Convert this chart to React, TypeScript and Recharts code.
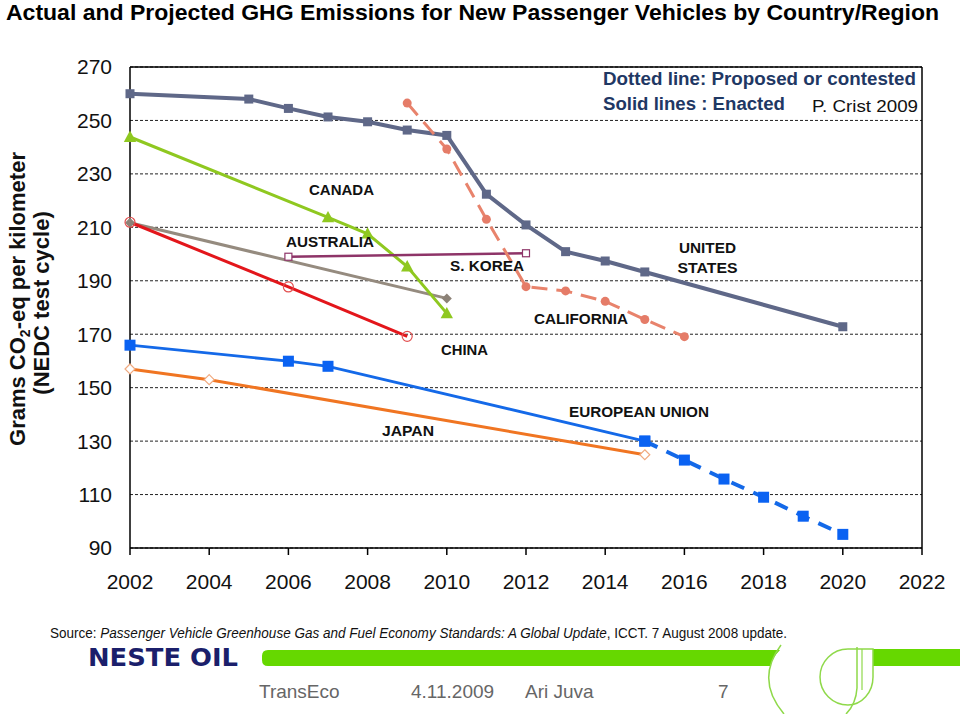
import React from "react";
import { LineChart, Line, XAxis, YAxis, CartesianGrid, ReferenceLine } from "recharts";

// ---------- data ----------
const usYears = [2002, 2005, 2006, 2007, 2008, 2009, 2010, 2011, 2012, 2013, 2014, 2015, 2020];
const usValues = [260, 258, 254.5, 251.3, 249.5, 246.4, 244.4, 222.4, 210.9, 200.9, 197.4, 193.3, 172.8];

const canadaYears = [2002, 2007, 2008, 2009, 2010];
const canadaValues = [243.8, 213.7, 207.6, 195.3, 177.8];

const australiaYears = [2002, 2010];
const australiaValues = [211.7, 183.4];

const chinaYears = [2002, 2006, 2009];
const chinaValues = [211.9, 187.7, 169.2];

const koreaYears = [2006, 2012];
const koreaValues = [199, 200.3];

const californiaYears = [2009, 2010, 2011, 2012, 2013, 2014, 2015, 2016];
const californiaValues = [256.5, 239.3, 213.0, 187.8, 186.2, 182.3, 175.5, 169.1];

const euEnactedYears = [2002, 2006, 2007, 2015];
const euEnactedValues = [165.9, 159.9, 158.0, 130];

const euProposedYears = [2015, 2016, 2017, 2018, 2019, 2020];
const euProposedValues = [130, 122.9, 115.8, 109.0, 101.9, 95.1];

const japanYears = [2002, 2004, 2015];
const japanValues = [157, 153, 124.9];

const xTicks = [2002, 2004, 2006, 2008, 2010, 2012, 2014, 2016, 2018, 2020, 2022];
const yTicks = [90, 110, 130, 150, 170, 190, 210, 230, 250, 270];

const zip = (years: number[], values: number[]) =>
  years.map((year, i) => ({ year, v: values[i] }));

const FONT = "'Liberation Sans', Arial, Helvetica, sans-serif";
const NARROW = "'Liberation Sans Narrow', 'Arial Narrow', 'Liberation Sans', Arial, sans-serif";

// ---------- dot shapes ----------
const squareDot = (fill: string, size: number, stroke?: string) => (p: any) => {
  if (p.cx == null || p.cy == null) return <g key={`n${p.index}`} />;
  return (
    <rect
      key={`s${p.index}`}
      x={p.cx - size / 2}
      y={p.cy - size / 2}
      width={size}
      height={size}
      fill={fill}
      stroke={stroke || "none"}
      strokeWidth={1.2}
    />
  );
};

const triangleDot = (fill: string, s: number) => (p: any) => {
  if (p.cx == null || p.cy == null) return <g key={`n${p.index}`} />;
  const { cx, cy } = p;
  return (
    <path
      key={`t${p.index}`}
      d={`M${cx},${cy - s} L${cx + s * 0.95},${cy + s * 0.75} L${cx - s * 0.95},${cy + s * 0.75} Z`}
      fill={fill}
    />
  );
};

const diamondDot = (fill: string, s: number, stroke?: string) => (p: any) => {
  if (p.cx == null || p.cy == null) return <g key={`n${p.index}`} />;
  const { cx, cy } = p;
  return (
    <path
      key={`d${p.index}`}
      d={`M${cx},${cy - s} L${cx + s},${cy} L${cx},${cy + s} L${cx - s},${cy} Z`}
      fill={fill}
      stroke={stroke || "none"}
      strokeWidth={1.2}
    />
  );
};

const circleDot = (fill: string, r: number, stroke?: string) => (p: any) => {
  if (p.cx == null || p.cy == null) return <g key={`n${p.index}`} />;
  return (
    <circle
      key={`c${p.index}`}
      cx={p.cx}
      cy={p.cy}
      r={r}
      fill={fill}
      stroke={stroke || "none"}
      strokeWidth={1.2}
    />
  );
};

const labelStyle = { fontFamily: FONT, fontWeight: 700, fontSize: 15, fill: "#111" } as const;

export default function App() {
  return (
    <div style={{ position: "absolute", left: 0, top: 0, width: 960, height: 714, background: "#fff", overflow: "hidden" }}>
      <div style={{ position: "absolute", left: 0, top: 0 }}>
        <LineChart width={960} height={714} margin={{ top: 67, right: 38, left: 70, bottom: 136 }}>
          <CartesianGrid horizontal vertical={false} stroke="#222" strokeDasharray="3 2" strokeWidth={1} />
          <XAxis
            type="number"
            dataKey="year"
            domain={[2002, 2022]}
            ticks={xTicks}
            height={30}
            tickSize={7}
            tickMargin={19}
            axisLine={{ stroke: "#000", strokeWidth: 1.5 }}
            tickLine={{ stroke: "#000", strokeWidth: 1.5 }}
            tick={{ fontFamily: FONT, fontSize: 21, fill: "#111" }}
          />
          <YAxis
            type="number"
            domain={[90, 270]}
            ticks={yTicks}
            width={60}
            tickSize={6}
            tickMargin={12}
            tickLine={false}
            axisLine={{ stroke: "#000", strokeWidth: 1.5 }}
            tick={{ fontFamily: FONT, fontSize: 21, fill: "#111" }}
          />
          <ReferenceLine y={270} stroke="#000" strokeWidth={1.5} />
          <ReferenceLine x={2022} stroke="#000" strokeWidth={1.5} />

          <Line data={zip(japanYears, japanValues)} dataKey="v" type="linear" stroke="#f07522" strokeWidth={3}
            dot={diamondDot("#fff", 5, "#f0aa80")} isAnimationActive={false} />
          <Line data={zip(euEnactedYears, euEnactedValues)} dataKey="v" type="linear" stroke="#1469e8" strokeWidth={2.8}
            dot={squareDot("#0a62f2", 11)} isAnimationActive={false} />
          <Line data={zip(euProposedYears, euProposedValues)} dataKey="v" type="linear" stroke="#1469e8" strokeWidth={4}
            strokeDasharray="14 10" dot={squareDot("#0a62f2", 11)} isAnimationActive={false} />
          <Line data={zip(australiaYears, australiaValues)} dataKey="v" type="linear" stroke="#958b7f" strokeWidth={3}
            dot={diamondDot("#8c8277", 5)} isAnimationActive={false} />
          <Line data={zip(chinaYears, chinaValues)} dataKey="v" type="linear" stroke="#e3161b" strokeWidth={3}
            dot={circleDot("none", 5, "#e25050")} isAnimationActive={false} />
          <Line data={zip(canadaYears, canadaValues)} dataKey="v" type="linear" stroke="#8fc820" strokeWidth={3}
            dot={triangleDot("#8fc820", 6.5)} isAnimationActive={false} />
          <Line data={zip(koreaYears, koreaValues)} dataKey="v" type="linear" stroke="#8e3468" strokeWidth={2.5}
            dot={squareDot("#fff", 7, "#8e3468")} isAnimationActive={false} />
          <Line data={zip(usYears, usValues)} dataKey="v" type="linear" stroke="#5f6888" strokeWidth={4}
            dot={squareDot("#5f6888", 9)} isAnimationActive={false} />
          <Line data={zip(californiaYears, californiaValues)} dataKey="v" type="linear" stroke="#e8836c" strokeWidth={3}
            strokeDasharray="16 9" dot={circleDot("#e57c68", 4.5)} isAnimationActive={false} />
        </LineChart>
      </div>

      <svg width={960} height={714} style={{ position: "absolute", left: 0, top: 0, pointerEvents: "none" }}>
        {/* title */}
        <text x={6} y={20} fontFamily={NARROW} fontWeight={700} fontSize={22} fill="#000" textLength={933} lengthAdjust="spacingAndGlyphs">
          Actual and Projected GHG Emissions for New Passenger Vehicles by Country/Region
        </text>

        {/* y-axis title */}
        <g transform="translate(25,299) rotate(-90)">
          <text x={0} y={0} textAnchor="middle" fontFamily={FONT} fontWeight={700} fontSize={22} fill="#111">
            Grams CO<tspan fontSize={14} dy={5}>2</tspan><tspan dy={-5}>-eq per kilometer</tspan>
          </text>
        </g>
        <g transform="translate(48.5,303) rotate(-90)">
          <text x={0} y={0} textAnchor="middle" fontFamily={FONT} fontWeight={700} fontSize={22} fill="#111">
            (NEDC test cycle)
          </text>
        </g>

        {/* note */}
        <text x={603} y={85} fontFamily={FONT} fontWeight={700} fontSize={18} fill="#1f3864" textLength={313} lengthAdjust="spacingAndGlyphs">
          Dotted line: Proposed or contested
        </text>
        <text x={603} y={110} fontFamily={FONT} fontWeight={700} fontSize={18} fill="#1f3864" textLength={182} lengthAdjust="spacingAndGlyphs">
          Solid lines : Enacted
        </text>
        <text x={812} y={111.5} fontFamily={FONT} fontSize={17} fill="#111" textLength={106} lengthAdjust="spacingAndGlyphs">
          P. Crist 2009
        </text>

        {/* series annotations */}
        <text x={309} y={195} {...labelStyle} textLength={65} lengthAdjust="spacingAndGlyphs">CANADA</text>
        <text x={286} y={247} {...labelStyle} textLength={88} lengthAdjust="spacingAndGlyphs">AUSTRALIA</text>
        <text x={450} y={271} {...labelStyle} textLength={74} lengthAdjust="spacingAndGlyphs">S. KOREA</text>
        <text x={679} y={253} {...labelStyle} textLength={57} lengthAdjust="spacingAndGlyphs">UNITED</text>
        <text x={677.5} y={273} {...labelStyle} textLength={60} lengthAdjust="spacingAndGlyphs">STATES</text>
        <text x={534} y={324} {...labelStyle} textLength={94} lengthAdjust="spacingAndGlyphs">CALIFORNIA</text>
        <text x={441} y={355} {...labelStyle} textLength={47} lengthAdjust="spacingAndGlyphs">CHINA</text>
        <text x={569} y={417} {...labelStyle} textLength={140} lengthAdjust="spacingAndGlyphs">EUROPEAN UNION</text>
        <text x={382} y={436} {...labelStyle} textLength={52} lengthAdjust="spacingAndGlyphs">JAPAN</text>

        {/* source */}
        <text x={50} y={638} fontFamily={NARROW} fontSize={14} fill="#111" textLength={737} lengthAdjust="spacingAndGlyphs">
          Source: <tspan fontStyle="italic">Passenger Vehicle Greenhouse Gas and Fuel Economy Standards: A Global Update</tspan>, ICCT. 7 August 2008 update.
        </text>

        {/* footer branding */}
        <text x={88} y={666} fontFamily="'DejaVu Sans', sans-serif" fontWeight={900} fontSize={24} fill="#1b1f6b" textLength={150} lengthAdjust="spacingAndGlyphs">
          NESTE OIL
        </text>
        <path d="M268 650 L780 650 Q773 657 770 666 L268 666 Q262 666 262 660 L262 656 Q262 650 268 650 Z" fill="#66d800" />
        <rect x={873} y={649} width={87} height={17} fill="#66d800" />
        <path d="M781 645 Q755 680 784 714" stroke="#8fd94a" strokeWidth={1.5} fill="none" />
        <path d="M873 649 L848 649 A28 28 0 0 0 820 677 A28 28 0 0 0 848 705 A25 28 0 0 0 873 677 Z" stroke="#8fd94a" strokeWidth={1.5} fill="none" />
        <path d="M857 647 L857 688 Q856 704 846 714" stroke="#8fd94a" strokeWidth={1.5} fill="none" />
        <path d="M862 649 L862 690" stroke="#8fd94a" strokeWidth={1.2} fill="none" />

        <text x={259} y={698} fontFamily={FONT} fontSize={19} fill="#666">TransEco</text>
        <text x={411} y={698} fontFamily={FONT} fontSize={19} fill="#666">4.11.2009</text>
        <text x={525} y={698} fontFamily={FONT} fontSize={19} fill="#666">Ari Juva</text>
        <text x={718} y={698} fontFamily={FONT} fontSize={19} fill="#666">7</text>
      </svg>
    </div>
  );
}
